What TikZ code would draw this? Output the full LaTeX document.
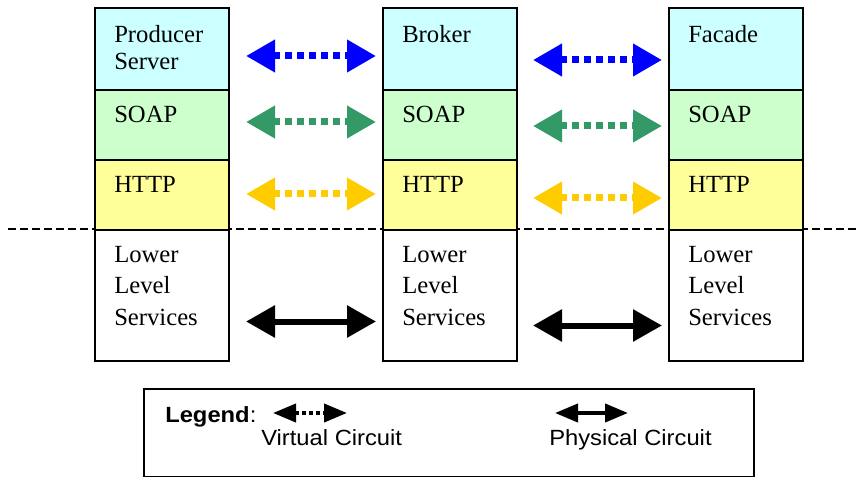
\documentclass[tikz,border=0pt]{standalone}
\usepackage{fontspec}
\setmainfont{Liberation Serif}
\setsansfont{Liberation Sans}
\newfontfamily\legendfont[FakeStretch=1.08]{Liberation Sans}
\usetikzlibrary{arrows.meta,calc}

\definecolor{serverCyan}{HTML}{CCFFFF}
\definecolor{soapGreen}{HTML}{CCFFCC}
\definecolor{httpYellow}{HTML}{FFFF99}
\definecolor{arrowBlue}{HTML}{0000FF}
\definecolor{arrowGreen}{HTML}{339966}
\definecolor{arrowGold}{HTML}{FFCC00}

\tikzset{
  layer/.style={draw, line width=1.5pt, anchor=north west, minimum width=100.5pt, inner sep=0pt},
  layertext/.style={anchor=north west, inner sep=0pt, align=left, font=\rmfamily\fontsize{18.5}{20.25}\selectfont},
  virtual/.style={draw=#1, line width=5.25pt, dash pattern=on 5.25pt off 3.75pt,
    arrows={Triangle[length=21.75pt,width=23.25pt]-Triangle[length=21.75pt,width=23.25pt]}},
  physical/.style={draw=black, line width=4.5pt,
    arrows={Triangle[length=21.75pt,width=23.25pt]-Triangle[length=21.75pt,width=23.25pt]}},
  legendtext/.style={anchor=base west, inner sep=0pt, font=\legendfont\fontsize{16.5}{20}\selectfont},
  legendarrow/.style={draw=black, line width=3pt,
    arrows={Triangle[length=17.25pt,width=13.5pt]-Triangle[length=17.25pt,width=13.5pt]}}
}

\begin{document}
\begin{tikzpicture}[x=0.75pt,y=-0.75pt]
  \useasboundingbox (0,0) rectangle (860,477);
  % boundary between the application layers and the lower levels
  \draw[line width=1.5pt, dash pattern=on 6pt off 3pt] (8,229) -- (860,229);
  % protocol stacks
  \foreach \col/\x in {prod/94,brk/382,fac/668}{
    \node[layer, fill=serverCyan, minimum height=61.5pt] (\col) at (\x,7) {};
    \node[layer, fill=soapGreen, minimum height=52.5pt] (\col Soap) at (\x,89) {};
    \node[layer, fill=httpYellow, minimum height=52.5pt] (\col Http) at (\x,159) {};
    \node[layer, fill=white, minimum height=98.25pt] (\col Low) at (\x,229) {};
    \node[layertext] (\col SoapTxt) at ($(\col Soap.north west)+(20,17)$) {SOAP};
    \node[layertext] (\col HttpTxt) at ($(\col Http.north west)+(20,17)$) {HTTP};
    \node[layertext, font=\rmfamily\fontsize{18.5}{23.5}\selectfont] (\col LowTxt) at ($(\col Low.north west)+(20,17)$) {Lower\\Level\\Services};
  }
  % names of the servers
  \node[layertext] (prodTxt) at ($(prod.north west)+(20,18)$) {Producer\\Server};
  \node[layertext] (brkTxt) at ($(brk.north west)+(20,18)$) {Broker};
  \node[layertext] (facTxt) at ($(fac.north west)+(20,18)$) {Facade};

  % virtual circuits
  \draw[virtual=arrowBlue] ($(prod.east)+(16,7)$) -- ($(brk.west)+(-6,7)$);
  \draw[virtual=arrowBlue] ($(brk.east)+(15,11)$) -- ($(fac.west)+(-6,11)$);
  \draw[virtual=arrowGreen] ($(prodSoap.east)+(16,-3)$) -- ($(brkSoap.west)+(-6,-3)$);
  \draw[virtual=arrowGreen] ($(brkSoap.east)+(15,1)$) -- ($(facSoap.west)+(-6,1)$);
  \draw[virtual=arrowGold] ($(prodHttp.east)+(16,-1)$) -- ($(brkHttp.west)+(-6,-1)$);
  \draw[virtual=arrowGold] ($(brkHttp.east)+(15,3)$) -- ($(facHttp.west)+(-6,3)$);
  % physical links
  \draw[physical] ($(prodLow.east)+(16,26)$) -- ($(brkLow.west)+(-6,26)$);
  \draw[physical] ($(brkLow.east)+(15,30)$) -- ($(facLow.west)+(-6,30)$);

  % legend
  \node[draw, line width=1.5pt, anchor=north west, minimum width=457.5pt, minimum height=66pt, inner sep=0pt] (legend) at (143,388) {};
  \node[legendtext] (legendTitle) at (165,422) {\textbf{Legend}:};
  \coordinate (virtL) at (273,413);
  \coordinate (virtR) at (347,413);
  \draw[legendarrow, dash pattern=on 3pt off 2.25pt] (virtL) -- (virtR);
  \node[legendtext] (virtTxt) at (261,445) {Virtual Circuit};
  \coordinate (physL) at (555,413);
  \coordinate (physR) at (628,413);
  \draw[legendarrow] (physL) -- (physR);
  \node[legendtext] (physTxt) at (549,445) {Physical Circuit};
\end{tikzpicture}
\end{document}
